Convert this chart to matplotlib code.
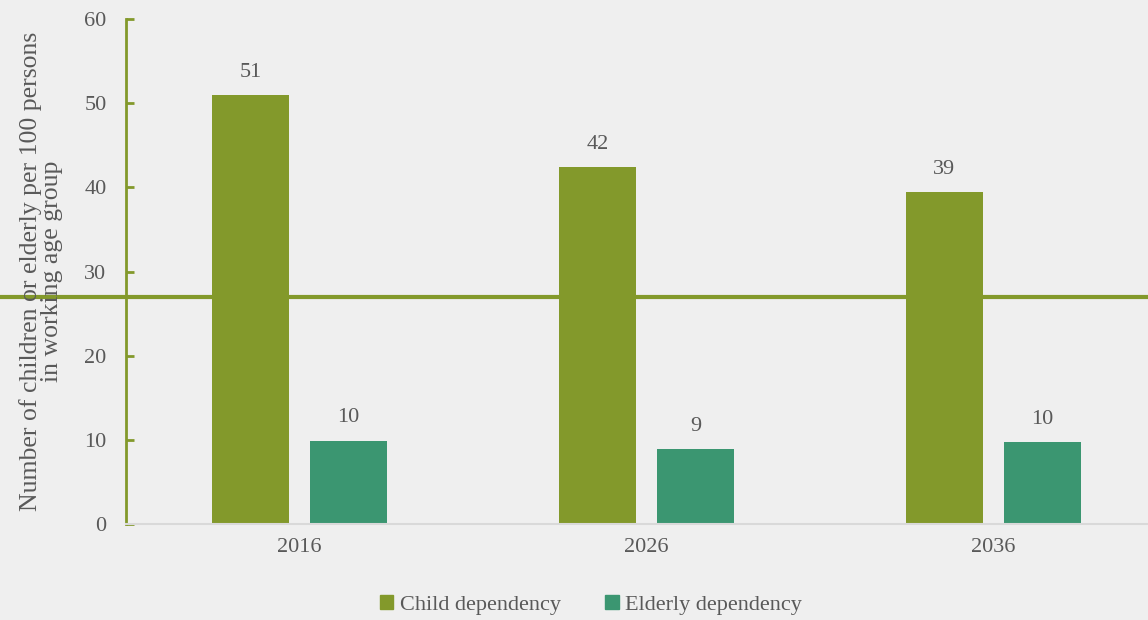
import matplotlib
matplotlib.use("Agg")
import matplotlib.pyplot as plt
from matplotlib.lines import Line2D
import numpy as np

years = ["2016", "2026", "2036"]
child_dependency = [51.0, 42.4, 39.4]
elderly_dependency = [9.9, 8.9, 9.7]
series_names = ["Child dependency", "Elderly dependency"]
y_ticks = [0, 10, 20, 30, 40, 50, 60]

CHILD = "#83992b"
ELDER = "#3b9671"
TEXT = "#595959"
BG = "#efefef"

plt.rcParams["font.family"] = ["Liberation Serif", "DejaVu Serif"]

fig = plt.figure(figsize=(11.48, 6.2), dpi=100, facecolor=BG)

# decorative rule across the whole slide, behind the chart
fig.add_artist(Line2D([0, 1], [1 - 297 / 620, 1 - 297 / 620], transform=fig.transFigure,
                      color=CHILD, linewidth=3, zorder=0))

ax = fig.add_axes([126 / 1148, 1 - 524 / 620, 1041 / 1148, 505 / 620], zorder=1)
ax.patch.set_alpha(0)

x = np.arange(len(years))
w = 0.222
off = 0.1415
b1 = ax.bar(x - off, child_dependency, w, color=CHILD, label=series_names[0], zorder=2)
b2 = ax.bar(x + off, elderly_dependency, w, color=ELDER, label=series_names[1], zorder=2)

for bars, vals in ((b1, child_dependency), (b2, elderly_dependency)):
    for rect, v in zip(bars, vals):
        ax.annotate(f"{v:.0f}", (rect.get_x() + rect.get_width() / 2, v),
                    xytext=(0, 9.5), textcoords="offset points",
                    ha="center", va="bottom", fontsize=16, color=TEXT)

ax.set_xlim(-0.5, 2.5)
ax.set_ylim(0, 60)
ax.set_yticks(y_ticks)
ax.set_xticks(x)
ax.set_xticklabels(years)

for s in ("top", "right"):
    ax.spines[s].set_visible(False)
ax.spines["left"].set_color(CHILD)
ax.spines["left"].set_linewidth(2)
ax.spines["bottom"].set_color("#d9d9d9")
ax.spines["bottom"].set_linewidth(1.5)

ax.tick_params(axis="y", direction="in", length=6, width=2, color=CHILD,
               labelsize=16, labelcolor=TEXT, pad=14)
ax.tick_params(axis="x", length=0, labelsize=16, labelcolor=TEXT, pad=10)

ax.set_ylabel("Number of children or elderly per 100 persons\nin working age group",
              fontsize=18.5, color=TEXT, linespacing=0.98, labelpad=15)

handles = [plt.Rectangle((0, 0), 1, 1, color=CHILD), plt.Rectangle((0, 0), 1, 1, color=ELDER)]
fig.legend(handles, series_names, loc="center", bbox_to_anchor=(591 / 1148, 1 - 605 / 620),
           ncol=2, frameon=False, fontsize=16, labelcolor=TEXT,
           handlelength=0.6, handleheight=0.6, handletextpad=0.3, columnspacing=2.0)

fig.savefig("out.png", dpi=100, facecolor=BG)
